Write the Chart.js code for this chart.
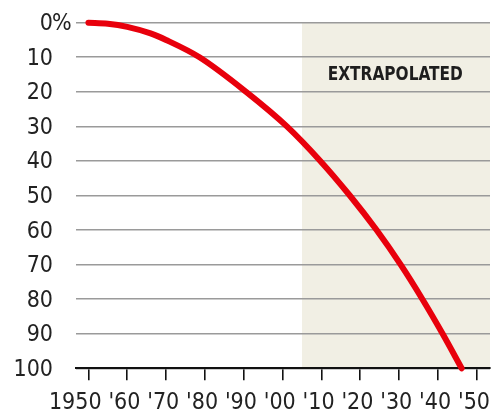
<!DOCTYPE html>
<html><head><meta charset="utf-8">
<script src="https://cdn.jsdelivr.net/npm/chart.js@4"></script>
<style>html,body{margin:0;padding:0;background:#fff;}canvas{display:block;}</style>
</head><body>
<canvas id="c" width="492" height="416"></canvas>
<script>
const years  = [1950,1955,1960,1966,1970,1978.6,1990.6,2001.1,2009.7,2017.3,2024.2,2030.4,2036.0,2041.2,2046.1];
const values = [0,0.3,1.2,3.1,5.0,10,20,30,40,50,60,70,80,90,100];
const xTickValues = [1950,1960,1970,1980,1990,2000,2010,2020,2030,2040,2050];
const xTickLabels = ['1950',"'60","'70","'80","'90","'00","'10","'20","'30","'40","'50"];
const yTickValues = [0,10,20,30,40,50,60,70,80,90,100];
const yTickLabels = ['0%','10','20','30','40','50','60','70','80','90','100'];
const extrapolationStart = 2005;
const shadeLabel = 'EXTRAPOLATED';
const shadeLabelAt = [2029, 15];

const FONT = '"DejaVu Sans Condensed", "DejaVu Sans", sans-serif';

const overlay = {
  id: 'overlay',
  beforeDraw(chart) {
    const {ctx, chartArea: a, scales: {x, y}} = chart;
    const x0 = x.getPixelForValue(extrapolationStart);
    const yt = y.getPixelForValue(0), yb = y.getPixelForValue(100);
    ctx.save();
    ctx.fillStyle = '#f1efe4';
    ctx.fillRect(x0, yt, a.right - x0, yb - yt);
    ctx.restore();
  },
  afterDraw(chart) {
    const {ctx, scales: {x, y}} = chart;
    ctx.save();
    ctx.font = 'bold 20px ' + FONT;
    ctx.fillStyle = '#1e1e1e';
    ctx.textBaseline = 'middle';
    ctx.textAlign = 'center';
    const w = ctx.measureText(shadeLabel).width;
    const sx = 135 / w;
    const cx = x.getPixelForValue(shadeLabelAt[0]);
    const cy = y.getPixelForValue(shadeLabelAt[1]);
    ctx.translate(cx, cy);
    ctx.scale(sx, 1);
    ctx.fillText(shadeLabel, 0, 0);
    ctx.restore();

    ctx.save();
    ctx.font = '23px ' + FONT;
    ctx.fillStyle = '#222';
    ctx.textAlign = 'right';
    ctx.textBaseline = 'alphabetic';
    xTickValues.forEach((v, i) => {
      const lab = xTickLabels[i];
      const w2 = ctx.measureText(lab.slice(-2)).width;
      ctx.fillText(lab, x.getPixelForValue(v) + w2 / 2, 409);
    });
    ctx.textBaseline = 'middle';
    const rx = y.right - 23;
    yTickValues.forEach((v, i) => {
      const lab = yTickLabels[i];
      const py = y.getPixelForValue(v) + 1.5;
      const num = lab.replace('%', '');
      ctx.textAlign = 'right';
      ctx.fillText(num, rx, py);
      if (lab.endsWith('%')) {
        ctx.textAlign = 'left';
        ctx.fillText('%', rx - 1, py);
      }
    });
    ctx.restore();
  }
};

new Chart(document.getElementById('c'), {
  type: 'line',
  data: {
    datasets: [{
      data: years.map((yr, i) => ({x: yr, y: values[i]})),
      borderColor: '#e8000c',
      borderWidth: 6,
      borderCapStyle: 'round',
      borderJoinStyle: 'round',
      pointRadius: 0,
      cubicInterpolationMode: 'monotone',
      fill: false,
      clip: false
    }]
  },
  options: {
    responsive: false,
    animation: false,
    devicePixelRatio: 1,
    layout: {padding: {top: 22.7, right: 2, left: 0, bottom: 0}},
    plugins: {legend: {display: false}, tooltip: {enabled: false}},
    scales: {
      x: {
        type: 'linear',
        min: 1946.8,
        max: 2053.4,
        afterBuildTicks: s => { s.ticks = xTickValues.map(v => ({value: v})); },
        afterFit: s => { s.height = 47.7; },
        ticks: {display: false},
        grid: {drawOnChartArea: false, drawTicks: true, tickLength: 12, color: '#111', lineWidth: 1.6},
        border: {display: true, color: '#111', width: 2}
      },
      y: {
        type: 'linear',
        reverse: true,
        min: 0,
        max: 100,
        afterBuildTicks: s => { s.ticks = yTickValues.map(v => ({value: v})); },
        afterFit: s => { s.width = 76; },
        ticks: {display: false},
        grid: {drawTicks: false, color: '#9a9a9a', lineWidth: 1.6},
        border: {display: false}
      }
    }
  },
  plugins: [overlay]
});
</script>
</body></html>
